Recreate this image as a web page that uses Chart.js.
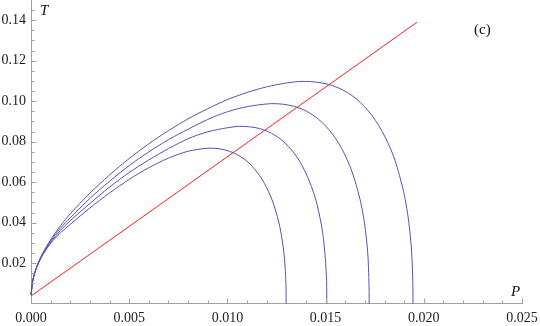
<!DOCTYPE html>
<html>
<head>
<meta charset="utf-8">
<script src="https://cdn.jsdelivr.net/npm/chart.js@4.4.1/dist/chart.umd.min.js"></script>
<style>
  html, body { margin: 0; padding: 0; background: #fff; }
</style>
</head>
<body>
<canvas id="chart" width="540" height="326"></canvas>
<script>
// Curves: P (x) and T (y)
const curve1P = [0, 0.0001, 0.0003, 0.0006, 0.001, 0.0015, 0.002, 0.003, 0.004, 0.005, 0.006, 0.007, 0.008, 0.009,
    0.00952, 0.00993, 0.01029, 0.01063, 0.01095, 0.01124, 0.01151, 0.01176, 0.01199, 0.0122, 0.01238, 0.01254, 0.01268, 0.01279, 0.01288, 0.01294, 0.01298, 0.012988, 0.01299];
const curve1T = [0.0043, 0.0118, 0.0181, 0.0241, 0.0298, 0.0350, 0.0392, 0.0473, 0.0547, 0.0614, 0.0672, 0.0719, 0.0753, 0.0768,
    0.0766, 0.0758, 0.0746, 0.0729, 0.0708, 0.0681, 0.0650, 0.0615, 0.0575, 0.0531, 0.0483, 0.0431, 0.0375, 0.0314, 0.0249, 0.0178, 0.0101, 0.0047, 0];

const curve2P = [0, 0.0001, 0.0003, 0.0006, 0.001, 0.0015, 0.002, 0.003, 0.004, 0.005, 0.006, 0.007, 0.008, 0.009, 0.010, 0.0106,
    0.01118, 0.01164, 0.01205, 0.01242, 0.01278, 0.0131, 0.01341, 0.01369, 0.01394, 0.01417, 0.01438, 0.01456, 0.01471, 0.01484, 0.01493, 0.015, 0.01505, 0.015058, 0.01506];
const curve2T = [0.0043, 0.0119, 0.0183, 0.0244, 0.0303, 0.0362, 0.0410, 0.0495, 0.0576, 0.0648, 0.0710, 0.0766, 0.0815, 0.0849, 0.0869, 0.0876,
    0.0873, 0.0865, 0.0851, 0.0832, 0.0807, 0.0777, 0.0742, 0.0702, 0.0656, 0.0606, 0.0551, 0.0492, 0.0427, 0.0358, 0.0284, 0.0204, 0.0115, 0.0053, 0];

const curve3P = [0, 0.0001, 0.0003, 0.0006, 0.001, 0.0015, 0.002, 0.003, 0.004, 0.005, 0.006, 0.007, 0.008, 0.009, 0.010, 0.011, 0.0122,
    0.01286, 0.01337, 0.01383, 0.01425, 0.01465, 0.01502, 0.01536, 0.01567, 0.01596, 0.01622, 0.01645, 0.01665, 0.01683, 0.01697, 0.01708, 0.01716, 0.0172, 0.017217, 0.01722];
const curve3T = [0.0043, 0.0120, 0.0184, 0.0247, 0.0310, 0.0373, 0.0424, 0.0520, 0.0605, 0.0682, 0.0750, 0.0810, 0.0862, 0.0910, 0.0948, 0.0973, 0.0988,
    0.0985, 0.0975, 0.0960, 0.0938, 0.0910, 0.0876, 0.0837, 0.0791, 0.0740, 0.0684, 0.0622, 0.0554, 0.0482, 0.0404, 0.0320, 0.0230, 0.0129, 0.0060, 0];

const curve4P = [0, 0.0001, 0.0003, 0.0006, 0.001, 0.0015, 0.002, 0.003, 0.004, 0.005, 0.006, 0.007, 0.008, 0.009, 0.010, 0.011, 0.012, 0.013, 0.0138,
    0.01454, 0.01511, 0.01563, 0.01611, 0.01656, 0.01697, 0.01736, 0.01771, 0.01803, 0.01833, 0.01859, 0.01881, 0.01901, 0.01917, 0.01929, 0.01938, 0.01943, 0.019447, 0.01945];
const curve4T = [0.0043, 0.0120, 0.0185, 0.0250, 0.0316, 0.0385, 0.0444, 0.0546, 0.0636, 0.0717, 0.0790, 0.0855, 0.0913, 0.0963, 0.1008, 0.1043, 0.1071, 0.1090, 0.1098,
    0.1094, 0.1084, 0.1067, 0.1043, 0.1012, 0.0974, 0.0930, 0.0879, 0.0823, 0.0760, 0.0691, 0.0616, 0.0536, 0.0449, 0.0356, 0.0255, 0.0144, 0.0067, 0];

// straight red line
const lineP = [0, 0.01965];
const lineT = [0.0038, 0.139];

// tick labels
const xTicks = [0, 0.005, 0.010, 0.015, 0.020, 0.025];
const yTicks = [0.02, 0.04, 0.06, 0.08, 0.10, 0.12, 0.14];

const blue = 'rgb(84,84,176)';
const red = 'rgb(255,30,30)';
const axisColor = '#a0a0a0';
const serif = "'Liberation Serif', serif";

Chart.defaults.font.family = serif;

function toPoints(px, ty) {
    return px.map((p, i) => ({ x: p, y: ty[i] }));
}

function curve(px, ty) {
    return {
        data: toPoints(px, ty),
        borderColor: blue,
        borderWidth: 1,
        pointRadius: 0,
        tension: 0.3,
        clip: 2
    };
}

// Mathematica-style ticks pointing into the plot, plus axis labels
const innerTicks = {
    id: 'innerTicks',
    afterDraw(chart) {
        const ctx = chart.ctx;
        const xs = chart.scales.x, ys = chart.scales.y;
        const x0 = Math.round(xs.left) + 0.5;
        const y0 = Math.round(ys.bottom) - 0.5;
        ctx.save();
        ctx.strokeStyle = axisColor;
        ctx.lineWidth = 1;
        ctx.beginPath();
        for (let i = 0; i <= 25; i++) {
            const px = Math.round(xs.getPixelForValue(i * 0.001)) + 0.5;
            const len = i % 5 === 0 ? 5 : 3;
            ctx.moveTo(px, y0);
            ctx.lineTo(px, y0 - len);
        }
        for (let i = 1; i <= 29; i++) {
            const py = Math.round(ys.getPixelForValue(i * 0.005)) + 0.5;
            const len = i % 4 === 0 ? 5 : 3;
            ctx.moveTo(x0, py);
            ctx.lineTo(x0 + len, py);
        }
        ctx.stroke();

        ctx.fillStyle = '#111';
        ctx.textBaseline = 'alphabetic';
        ctx.textAlign = 'left';
        ctx.font = "italic 15px 'Liberation Serif'";
        ctx.fillText('T', 40, 15);
        ctx.fillText('P', 511, 296);
        ctx.font = "15px 'Liberation Serif'";
        ctx.fillText('(c)', 474, 34);
        ctx.restore();
    }
};

new Chart(document.getElementById('chart'), {
    type: 'line',
    data: {
        datasets: [
            curve(curve1P, curve1T),
            curve(curve2P, curve2T),
            curve(curve3P, curve3T),
            curve(curve4P, curve4T),
            {
                data: toPoints(lineP, lineT),
                borderColor: red,
                borderWidth: 1,
                pointRadius: 0,
                tension: 0
            }
        ]
    },
    options: {
        responsive: false,
        animation: false,
        layout: { padding: { left: 0, right: 18, top: 0, bottom: 0 } },
        plugins: { legend: { display: false }, tooltip: { enabled: false } },
        scales: {
            x: {
                type: 'linear',
                min: 0,
                max: 0.025,
                grid: { display: false, drawTicks: false },
                border: { display: true, color: axisColor, width: 1 },
                afterBuildTicks: s => { s.ticks = xTicks.map(v => ({ value: v })); },
                afterFit: s => { s.height = 22.3; s.paddingLeft = 0; s.paddingRight = 0; },
                ticks: {
                    padding: 6,
                    color: '#222',
                    maxRotation: 0,
                    font: { family: serif, size: 14 },
                    callback: v => v.toFixed(3)
                }
            },
            y: {
                type: 'linear',
                min: 0,
                max: 0.15,
                grid: { display: false, drawTicks: false },
                border: { display: true, color: axisColor, width: 1 },
                afterBuildTicks: s => { s.ticks = yTicks.map(v => ({ value: v })); },
                afterFit: s => { s.width = 31; s.paddingTop = 0; s.paddingBottom = 0; },
                ticks: {
                    padding: 5,
                    color: '#222',
                    font: { family: serif, size: 14 },
                    callback: v => v.toFixed(2)
                }
            }
        }
    },
    plugins: [innerTicks]
});
</script>
</body>
</html>
